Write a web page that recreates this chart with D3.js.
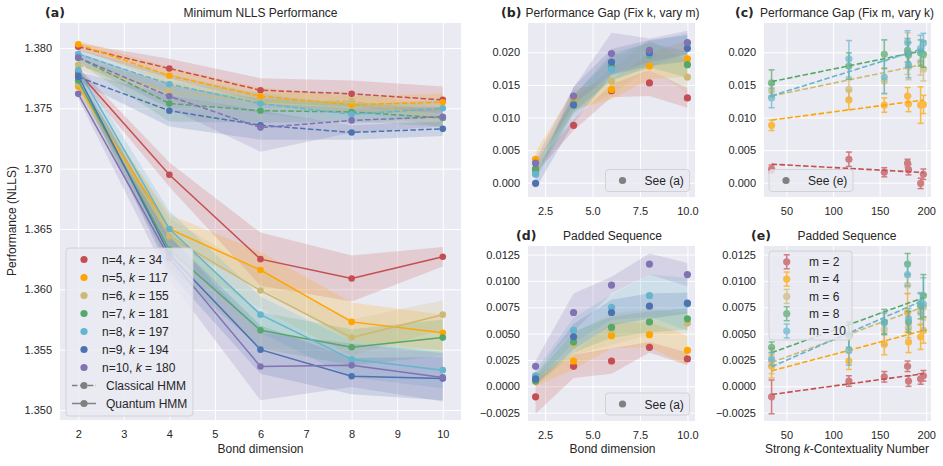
<!DOCTYPE html>
<html lang="en">
<head>
<meta charset="UTF-8">
<title>Minimum NLLS Performance</title>
<script src="https://d3js.org/d3.v7.min.js"></script>
<style>
  body { margin: 0; background: #fff; }
  svg { font-family: 'Liberation Sans', Arial, sans-serif; }
  .tick text { fill: #262626; font-size: 11px; font-family: 'Liberation Sans', Arial, sans-serif; }
  .tick line { stroke: #fff; stroke-width: 1; }
  .title { font-size: 12px; fill: #262626; text-anchor: middle; }
  .plabel { font-size: 12.5px; font-weight: bold; fill: #262626; font-family: 'DejaVu Sans', sans-serif; }
  .axlabel { font-size: 12px; fill: #262626; text-anchor: middle; }
  .legtext { font-size: 12px; fill: #262626; }
</style>
</head>
<body>
<div id="chart"></div>
<script>
const W = 943, H = 466;

const bondDims = [2, 4, 6, 8, 10];
const nValues = [4, 5, 6, 7, 8, 9, 10];
const kValues = [34, 117, 155, 181, 197, 194, 180];
const mValues = [2, 4, 6, 8, 10];
const colors = ["#c44e52", "#ffa500", "#ccb974", "#55a868", "#64b5cd", "#4c72b0", "#8172b2"];

// (a) rows = n, cols = bond dimension
const classical = [
  [1.3801, 1.3783, 1.3765, 1.3762, 1.3757],
  [1.3803, 1.3777, 1.3760, 1.3753, 1.3755],
  [1.3786, 1.3764, 1.3755, 1.3756, 1.3742],
  [1.3792, 1.3754, 1.3748, 1.3747, 1.3742],
  [1.3795, 1.3770, 1.3754, 1.3745, 1.3750],
  [1.3776, 1.3748, 1.3736, 1.3730, 1.3733],
  [1.3792, 1.3760, 1.3734, 1.3740, 1.3743]
];
const classicalErr = [
  [0.0003, 0.0008, 0.0010, 0.0011, 0.0011],
  [0.0003, 0.0007, 0.0007, 0.0007, 0.0007],
  [0.0004, 0.0008, 0.0008, 0.0008, 0.0008],
  [0.0004, 0.0015, 0.0010, 0.0008, 0.0007],
  [0.0004, 0.0008, 0.0008, 0.0008, 0.0007],
  [0.0004, 0.0013, 0.0012, 0.0006, 0.0006],
  [0.0004, 0.0010, 0.0020, 0.0010, 0.0008]
];
const quantum = [
  [1.3780, 1.3695, 1.3625, 1.3609, 1.3627],
  [1.3768, 1.3650, 1.3616, 1.3573, 1.3564],
  [1.3770, 1.3644, 1.3599, 1.3560, 1.3579],
  [1.3773, 1.3633, 1.3566, 1.3552, 1.3560],
  [1.3782, 1.3650, 1.3579, 1.3542, 1.3533],
  [1.3777, 1.3629, 1.3550, 1.3528, 1.3526],
  [1.3762, 1.3626, 1.3536, 1.3537, 1.3527]
];
const quantumErr = [
  [0.0004, 0.0010, 0.0022, 0.0019, 0.0008],
  [0.0004, 0.0012, 0.0015, 0.0016, 0.0015],
  [0.0004, 0.0015, 0.0015, 0.0015, 0.0012],
  [0.0004, 0.0015, 0.0015, 0.0015, 0.0015],
  [0.0004, 0.0015, 0.0015, 0.0015, 0.0015],
  [0.0004, 0.0015, 0.0020, 0.0015, 0.0018],
  [0.0004, 0.0018, 0.0028, 0.0018, 0.0020]
];

// (b)/(c) performance gap, rows = n, cols = m
const gap = [
  [0.0021, 0.0088, 0.0141, 0.0153, 0.0130],
  [0.0036, 0.0127, 0.0143, 0.0179, 0.0190],
  [0.0016, 0.0119, 0.0156, 0.0197, 0.0162],
  [0.0020, 0.0121, 0.0178, 0.0196, 0.0181],
  [0.0013, 0.0120, 0.0174, 0.0197, 0.0214],
  [-0.0001, 0.0119, 0.0185, 0.0199, 0.0206],
  [0.0030, 0.0133, 0.0198, 0.0203, 0.0215]
];
const gapErr = [
  [0.0006, 0.0008, 0.0010, 0.0020, 0.0015],
  [0.0011, 0.0015, 0.0015, 0.0020, 0.0028],
  [0.0007, 0.0011, 0.0020, 0.0022, 0.0025],
  [0.0008, 0.0012, 0.0020, 0.0019, 0.0020],
  [0.0008, 0.0014, 0.0018, 0.0020, 0.0015],
  [0.0008, 0.0028, 0.0020, 0.0020, 0.0020],
  [0.0006, 0.0013, 0.0032, 0.0018, 0.0018]
];

// (d)/(e) padded sequence, rows = n, cols = m
const padded = [
  [-0.0010, 0.0019, 0.0024, 0.0037, 0.0026],
  [0.0005, 0.0024, 0.0048, 0.0049, 0.0034],
  [0.0009, 0.0040, 0.0054, 0.0061, 0.0060],
  [0.0005, 0.0042, 0.0056, 0.0061, 0.0064],
  [0.0010, 0.0053, 0.0075, 0.0086, 0.0078],
  [0.0007, 0.0047, 0.0070, 0.0076, 0.0079],
  [0.0019, 0.0070, 0.0096, 0.0116, 0.0106]
];
const paddedErr = [
  [0.0016, 0.0011, 0.0012, 0.0005, 0.0006],
  [0.0005, 0.0008, 0.0012, 0.0012, 0.0014],
  [0.0005, 0.0010, 0.0015, 0.0012, 0.0010],
  [0.0005, 0.0010, 0.0010, 0.0010, 0.0010],
  [0.0005, 0.0012, 0.0012, 0.0020, 0.0025],
  [0.0005, 0.0012, 0.0012, 0.0012, 0.0010],
  [0.0005, 0.0018, 0.0008, 0.0010, 0.0011]
];

const svg = d3.select("#chart").append("svg")
  .attr("width", W).attr("height", H);

function panel(b, xd, yd, xt, yt, xf, yf) {
  const x = d3.scaleLinear().domain(xd).range([b.x0, b.x1]);
  const y = d3.scaleLinear().domain(yd).range([b.y1, b.y0]);
  const g = svg.append("g");
  g.append("rect")
    .attr("x", b.x0).attr("y", b.y0)
    .attr("width", b.x1 - b.x0).attr("height", b.y1 - b.y0)
    .attr("fill", "#eaeaf2");
  g.append("g")
    .attr("transform", `translate(0,${b.y1})`)
    .call(d3.axisBottom(x).tickValues(xt).tickFormat(xf).tickSize(-(b.y1 - b.y0)).tickPadding(10));
  g.append("g")
    .attr("transform", `translate(${b.x0},0)`)
    .call(d3.axisLeft(y).tickValues(yt).tickFormat(yf).tickSize(-(b.x1 - b.x0)).tickPadding(8));
  g.selectAll(".domain").remove();
  return { x, y, g };
}

function band(g, x, y, xs, vals, errs, color) {
  const area = d3.area()
    .x((d, j) => x(xs[j]))
    .y0((d, j) => y(vals[j] - errs[j]))
    .y1((d, j) => y(vals[j] + errs[j]));
  g.append("path").datum(vals).attr("d", area)
    .attr("fill", color).attr("fill-opacity", 0.2);
}

function dots(g, x, y, xs, vals, color, r, op) {
  g.selectAll(null).data(vals).enter().append("circle")
    .attr("cx", (d, j) => x(xs[j])).attr("cy", d => y(d))
    .attr("r", r).attr("fill", color).attr("fill-opacity", op);
}

function errorbars(g, x, y, xs, vals, errs, color) {
  const eg = g.append("g").attr("opacity", 0.7);
  vals.forEach((v, j) => {
    const cx = x(xs[j]);
    eg.append("line").attr("x1", cx).attr("x2", cx)
      .attr("y1", y(v - errs[j])).attr("y2", y(v + errs[j]))
      .attr("stroke", color).attr("stroke-width", 1.5);
    [v - errs[j], v + errs[j]].forEach(e => {
      eg.append("line").attr("x1", cx - 3).attr("x2", cx + 3)
        .attr("y1", y(e)).attr("y2", y(e))
        .attr("stroke", color).attr("stroke-width", 1.5);
    });
    eg.append("circle").attr("cx", cx).attr("cy", y(v)).attr("r", 3.6).attr("fill", color);
  });
}

function fitLine(g, x, y, xs, ys, color) {
  const mx = d3.mean(xs), my = d3.mean(ys);
  const slope = d3.sum(xs, (v, i) => (v - mx) * (ys[i] - my)) / d3.sum(xs, v => (v - mx) * (v - mx));
  const ends = d3.extent(xs);
  g.append("line")
    .attr("x1", x(ends[0])).attr("x2", x(ends[1]))
    .attr("y1", y(my + slope * (ends[0] - mx))).attr("y2", y(my + slope * (ends[1] - mx)))
    .attr("stroke", color).attr("stroke-width", 1.6).attr("stroke-dasharray", "5.5,2.4");
}

function seeLegend(x0, y0, label) {
  const lg = svg.append("g");
  lg.append("rect").attr("x", x0).attr("y", y0).attr("width", 84).attr("height", 22).attr("rx", 3)
    .attr("fill", "#eaeaf2").attr("fill-opacity", 0.8).attr("stroke", "#cccccc").attr("stroke-width", 0.8);
  lg.append("circle").attr("cx", x0 + 17).attr("cy", y0 + 11).attr("r", 3.6).attr("fill", "#808080");
  lg.append("text").attr("class", "legtext").attr("x", x0 + 39).attr("y", y0 + 15.5).text(label);
}

const fmt3 = d3.format(".3f"), fmt4 = d3.format(".4f"), fmt1 = d3.format(".1f");

// ---- (a)
const A = panel({ x0: 60, x1: 461, y0: 23, y1: 420 }, [1.6, 10.4], [1.34917, 1.38207],
  [2, 3, 4, 5, 6, 7, 8, 9, 10], [1.350, 1.355, 1.360, 1.365, 1.370, 1.375, 1.380], d3.format("d"), fmt3);
nValues.forEach((n, i) => {
  band(A.g, A.x, A.y, bondDims, classical[i], classicalErr[i], colors[i]);
  band(A.g, A.x, A.y, bondDims, quantum[i], quantumErr[i], colors[i]);
});
const lineA = d3.line().x((d, j) => A.x(bondDims[j])).y(d => A.y(d));
nValues.forEach((n, i) => {
  A.g.append("path").datum(classical[i]).attr("d", lineA).attr("fill", "none")
    .attr("stroke", colors[i]).attr("stroke-width", 1.5).attr("stroke-dasharray", "5.5,2.4");
  dots(A.g, A.x, A.y, bondDims, classical[i], colors[i], 3.3, 1);
  A.g.append("path").datum(quantum[i]).attr("d", lineA).attr("fill", "none")
    .attr("stroke", colors[i]).attr("stroke-width", 1.5);
  dots(A.g, A.x, A.y, bondDims, quantum[i], colors[i], 3.3, 1);
});

// legend (a)
const la = svg.append("g");
la.append("rect").attr("x", 66).attr("y", 248).attr("width", 127).attr("height", 168).attr("rx", 3)
  .attr("fill", "#eaeaf2").attr("fill-opacity", 0.8).attr("stroke", "#cccccc").attr("stroke-width", 0.8);
nValues.forEach((n, i) => {
  const cy = 259.5 + i * 18;
  la.append("circle").attr("cx", 84).attr("cy", cy).attr("r", 3.6).attr("fill", colors[i]);
  const t = la.append("text").attr("class", "legtext").attr("x", 102).attr("y", cy + 4.3);
  t.append("tspan").text(`n=${n}, `);
  t.append("tspan").attr("font-style", "italic").text("k");
  t.append("tspan").text(` = ${kValues[i]}`);
});
["Classical HMM", "Quantum HMM"].forEach((lab, i) => {
  const cy = 385.5 + i * 18;
  la.append("line").attr("x1", 72).attr("x2", 96).attr("y1", cy).attr("y2", cy)
    .attr("stroke", "#808080").attr("stroke-width", 1.5)
    .attr("stroke-dasharray", i === 0 ? "5.5,2.4" : null);
  la.append("circle").attr("cx", 84).attr("cy", cy).attr("r", 3.6).attr("fill", "#808080");
  la.append("text").attr("class", "legtext").attr("x", 106).attr("y", cy + 4.3).text(lab);
});

// ---- (b)
const B = panel({ x0: 528, x1: 695, y0: 23, y1: 197 }, [1.6, 10.4], [-0.00219, 0.02449],
  [2.5, 5, 7.5, 10], [0, 0.005, 0.010, 0.015, 0.020], fmt1, fmt3);
nValues.forEach((n, i) => band(B.g, B.x, B.y, mValues, gap[i], gapErr[i], colors[i]));
nValues.forEach((n, i) => dots(B.g, B.x, B.y, mValues, gap[i], colors[i], 3.6, 1));
seeLegend(605.5, 169.5, "See (a)");

// ---- (c)
const C = panel({ x0: 764, x1: 931, y0: 23, y1: 197 }, [25.85, 205.15], [-0.00219, 0.02449],
  [50, 100, 150, 200], [0, 0.005, 0.010, 0.015, 0.020], d3.format("d"), fmt3);
mValues.forEach((m, j) => {
  const ys = gap.map(r => r[j]);
  errorbars(C.g, C.x, C.y, kValues, ys, gapErr.map(r => r[j]), colors[j]);
  fitLine(C.g, C.x, C.y, kValues, ys, colors[j]);
});
seeLegend(769, 169.5, "See (e)");

// ---- (d)
const D = panel({ x0: 528, x1: 695, y0: 246, y1: 421 }, [1.6, 10.4], [-0.00329, 0.01331],
  [2.5, 5, 7.5, 10], [-0.0025, 0, 0.0025, 0.005, 0.0075, 0.010, 0.0125], fmt1, fmt4);
nValues.forEach((n, i) => band(D.g, D.x, D.y, mValues, padded[i], paddedErr[i], colors[i]));
nValues.forEach((n, i) => dots(D.g, D.x, D.y, mValues, padded[i], colors[i], 3.6, 1));
seeLegend(605.5, 393, "See (a)");

// ---- (e)
const E = panel({ x0: 764, x1: 931, y0: 246, y1: 421 }, [25.85, 205.15], [-0.00329, 0.01331],
  [50, 100, 150, 200], [-0.0025, 0, 0.0025, 0.005, 0.0075, 0.010, 0.0125], d3.format("d"), fmt4);
mValues.forEach((m, j) => {
  const ys = padded.map(r => r[j]);
  errorbars(E.g, E.x, E.y, kValues, ys, paddedErr.map(r => r[j]), colors[j]);
  fitLine(E.g, E.x, E.y, kValues, ys, colors[j]);
});
const le = svg.append("g");
le.append("rect").attr("x", 769).attr("y", 251).attr("width", 83).attr("height", 89).attr("rx", 3)
  .attr("fill", "#eaeaf2").attr("fill-opacity", 0.8).attr("stroke", "#cccccc").attr("stroke-width", 0.8);
mValues.forEach((m, j) => {
  const cy = 261.8 + j * 17.3;
  const eg = le.append("g").attr("opacity", 0.7);
  eg.append("line").attr("x1", 786.7).attr("x2", 786.7).attr("y1", cy - 7).attr("y2", cy + 7)
    .attr("stroke", colors[j]).attr("stroke-width", 1.5);
  [-7, 7].forEach(o => eg.append("line").attr("x1", 783.7).attr("x2", 789.7)
    .attr("y1", cy + o).attr("y2", cy + o).attr("stroke", colors[j]).attr("stroke-width", 1.5));
  eg.append("circle").attr("cx", 786.7).attr("cy", cy).attr("r", 3.6).attr("fill", colors[j]);
  le.append("text").attr("class", "legtext").attr("x", 809).attr("y", cy + 4.3).text(`m = ${m}`);
});

// ---- titles and labels
const titles = [
  { p: "(a)", px: 45, t: "Minimum NLLS Performance", tx: 260.5, y: 16.5 },
  { p: "(b)", px: 501, t: "Performance Gap (Fix k, vary m)", tx: 612.5, y: 16.5 },
  { p: "(c)", px: 735, t: "Performance Gap (Fix m, vary k)", tx: 847, y: 16.5 },
  { p: "(d)", px: 516, t: "Padded Sequence", tx: 612.5, y: 240 },
  { p: "(e)", px: 751, t: "Padded Sequence", tx: 847, y: 240 }
];
titles.forEach(d => {
  svg.append("text").attr("class", "plabel").attr("x", d.px).attr("y", d.y).text(d.p);
  svg.append("text").attr("class", "title").attr("x", d.tx).attr("y", d.y).text(d.t);
});

svg.append("text").attr("class", "axlabel").attr("x", 260.5).attr("y", 453).text("Bond dimension");
svg.append("text").attr("class", "axlabel").attr("x", 612.5).attr("y", 453).text("Bond dimension");
const xe = svg.append("text").attr("class", "axlabel").attr("x", 847).attr("y", 453);
xe.append("tspan").text("Strong ");
xe.append("tspan").attr("font-style", "italic").text("k");
xe.append("tspan").text("-Contextuality Number");
svg.append("text").attr("class", "axlabel")
  .attr("transform", "translate(16,221) rotate(-90)").text("Performance (NLLS)");
</script>
</body>
</html>
